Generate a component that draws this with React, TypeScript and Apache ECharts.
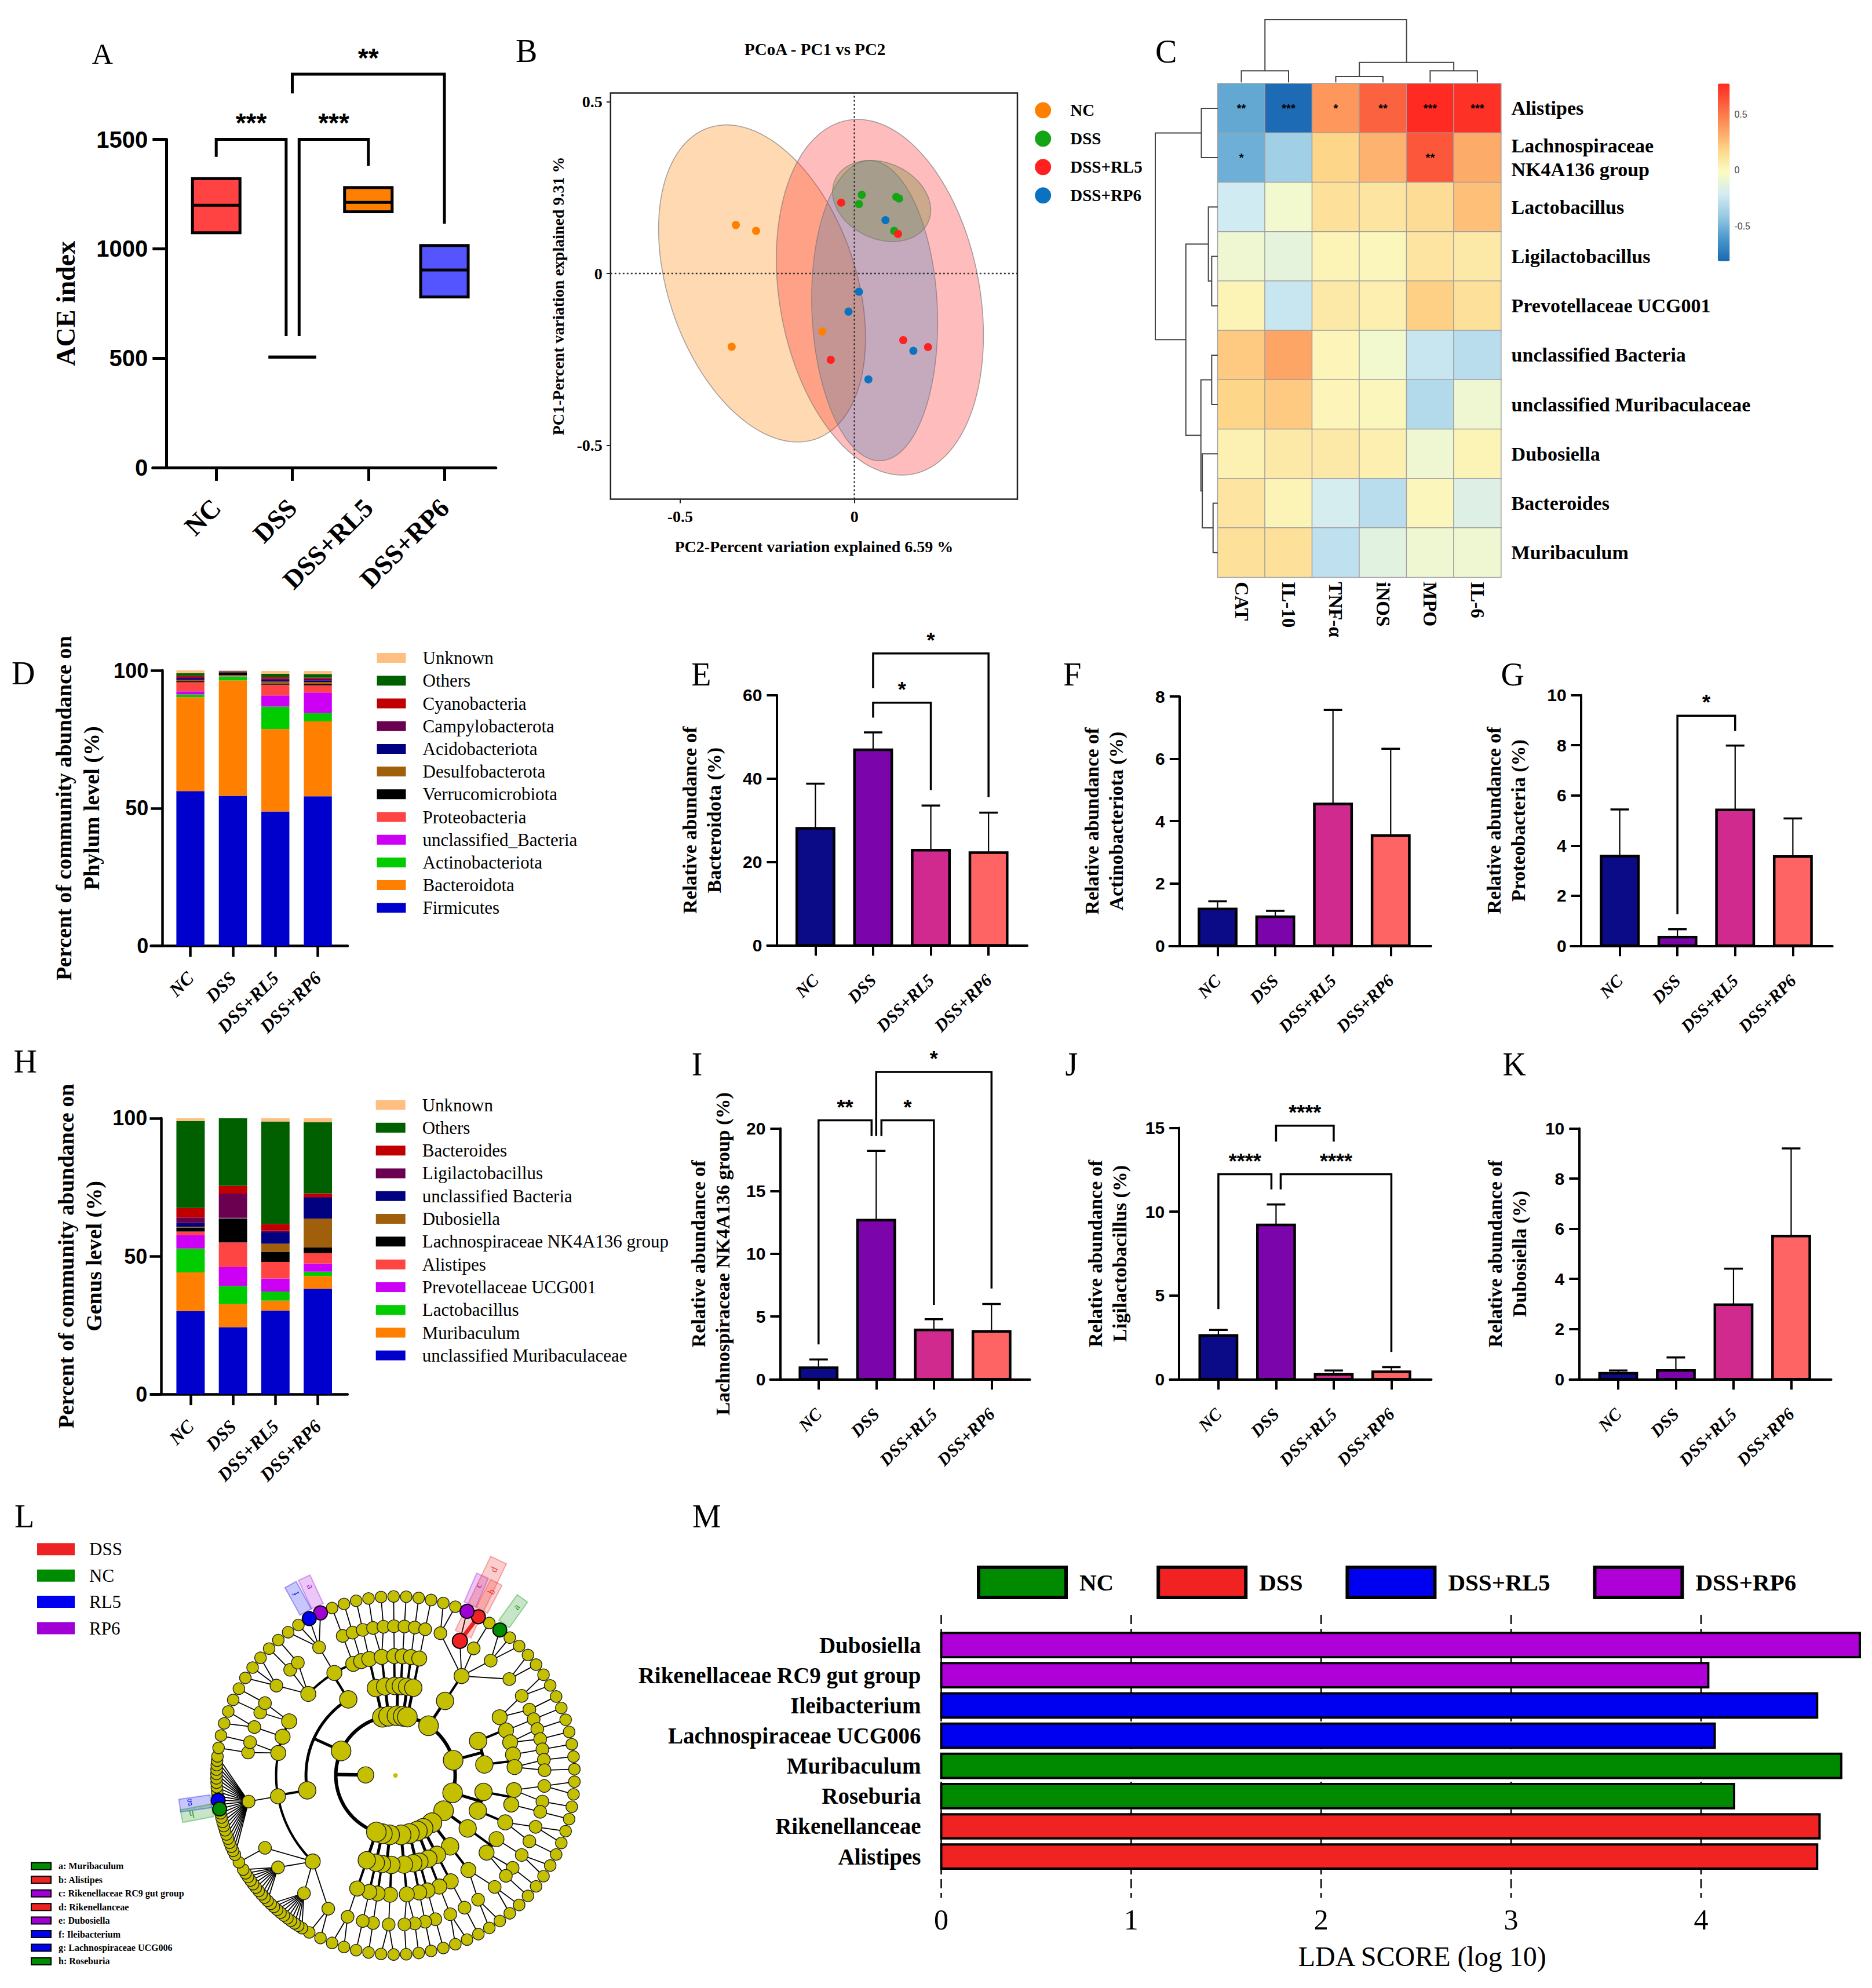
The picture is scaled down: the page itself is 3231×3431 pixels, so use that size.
import React, { useEffect, useRef } from "react";
import * as echarts from "echarts";

const SERIF = '"Liberation Serif", "Times New Roman", Times, serif';
const SANS = '"Liberation Sans", Arial, Helvetica, sans-serif';

/* ---------------- shared ---------------- */
const GROUPS = ["NC", "DSS", "DSS+RL5", "DSS+RP6"];
const BAR_COLORS = ["#0B0B87", "#7B05AB", "#D12A8F", "#FF6464"];

/* ---------------- A : ACE index ---------------- */
const ACE_Q1 = [1073, 505, 1169, 780];
const ACE_MEDIAN = [1199, 505, 1212, 903];
const ACE_Q3 = [1321, 505, 1280, 1015];
const ACE_COLORS = ["#FF4242", "#FF4242", "#FF8000", "#5555FF"];
// [x1, x2, barY, leftEndY, rightEndY, leftPxShift, rightPxShift, label]
const ACE_BRACKETS: any[] = [
  [0, 1, 1500, 1420, 601, 0, -10.6, "***"],
  [1, 2, 1500, 601, 1380, 11.8, 0, "***"],
  [1, 3, 1798, 1710, 1115, 0, 0, "**"],
];

/* ---------------- B : PCoA ---------------- */
const PCOA_NC = [[-0.34, 0.141], [-0.282, 0.124], [-0.092, -0.169], [-0.352, -0.213]];
const PCOA_DSS = [[0.021, 0.229], [0.013, 0.202], [0.12, 0.223], [0.128, 0.218], [0.114, 0.124]];
const PCOA_RL5 = [[-0.038, 0.206], [0.125, 0.115], [0.14, -0.194], [0.211, -0.214], [-0.068, -0.251]];
const PCOA_RP6 = [[0.089, 0.155], [0.013, -0.053], [-0.017, -0.111], [0.169, -0.225], [0.04, -0.308]];
const PCOA_POINTS = [PCOA_NC, PCOA_DSS, PCOA_RL5, PCOA_RP6];
const PCOA_COLORS = ["#FF8000", "#14A514", "#FF2020", "#0A72BE"];
// [cx, cy, semi-major, semi-minor, angle(deg)]
const PCOA_ELLIPSES = [
  [-0.265, -0.029, 0.478, 0.269, -71.5],
  [0.078, 0.211, 0.147, 0.11, -26],
  [0.073, -0.069, 0.523, 0.287, -79.9],
  [0.058, -0.108, 0.437, 0.18, -87.7],
];
const ELLIPSE_FILLS = ["rgba(255,128,0,0.3)", "rgba(107,133,47,0.34)", "rgba(255,32,32,0.3)", "rgba(10,114,190,0.24)"];
const ELLIPSE_ORDER = [0, 2, 3, 1];

/* ---------------- C : heatmap ---------------- */
const HEAT_COLS = ["CAT", "IL-10", "TNF-α", "iNOS", "MPO", "IL-6"];
const HEAT_ROWS = [
  "Alistipes",
  "Lachnospiraceae\nNK4A136 group",
  "Lactobacillus",
  "Ligilactobacillus",
  "Prevotellaceae UCG001",
  "unclassified Bacteria",
  "unclassified Muribaculaceae",
  "Dubosiella",
  "Bacteroides",
  "Muribaculum",
];
const HEAT_VALUES = [
  [-0.55, -0.8, 0.4, 0.58, 0.77, 0.75],
  [-0.52, -0.38, 0.18, 0.3, 0.62, 0.33],
  [-0.22, -0.06, 0.12, 0.1, 0.14, 0.26],
  [-0.08, -0.12, 0.03, 0.01, 0.1, 0.08],
  [0.03, -0.25, 0.08, 0.05, 0.2, 0.12],
  [0.22, 0.35, 0.02, -0.06, -0.25, -0.3],
  [0.18, 0.22, 0.02, 0.01, -0.32, -0.08],
  [0.04, 0.08, 0.08, 0.05, -0.08, 0.03],
  [0.1, 0.03, -0.2, -0.3, 0.01, -0.16],
  [0.12, 0.12, -0.28, -0.14, -0.08, -0.08],
];
const HEAT_STARS = [
  ["**", "***", "*", "**", "***", "***"],
  ["*", "", "", "", "**", ""],
  ["", "", "", "", "", ""],
  ["", "", "", "", "", ""],
  ["", "", "", "", "", ""],
  ["", "", "", "", "", ""],
  ["", "", "", "", "", ""],
  ["", "", "", "", "", ""],
  ["", "", "", "", "", ""],
  ["", "", "", "", "", ""],
];
const HEAT_MIN = -0.814;
const HEAT_MAX = 0.775;
const HEAT_PALETTE = ["#1868B2", "#4A97CC", "#96C9E2", "#D2EBF3", "#FBFCC4", "#FED68A", "#FD9D5E", "#FB6441", "#FF2A22"];
const HEAT_LEGEND_TICKS = [-0.5, 0, 0.5];
// column dendrogram merges: [xLeft, xRight, hLeft, hRight, hMerge]
const COL_MERGES = [
  [0.5, 1.5, 0, 0, 0.184],
  [2.5, 3.5, 0, 0, 0.095],
  [4.5, 5.5, 0, 0, 0.184],
  [3, 5, 0.095, 0.184, 0.318],
  [1, 4, 0.184, 0.318, 1],
];
// row dendrogram merges: [yTop, yBottom, hTop, hBottom, hMerge]
const ROW_MERGES = [
  [0.5, 1.5, 0, 0, 0.2625],
  [3.5, 4.5, 0, 0, 0.097],
  [2.5, 4, 0, 0.097, 0.15],
  [5.5, 6.5, 0, 0, 0.097],
  [8.5, 9.5, 0, 0, 0.075],
  [7.5, 9, 0, 0.075, 0.2477],
  [6, 8.25, 0.097, 0.2477, 0.27],
  [3.25, 7.125, 0.15, 0.27, 0.511],
  [1, 5.1875, 0.2625, 0.511, 1],
];

/* ---------------- D : phylum stacked ---------------- */
const PHYLUM_NAMES = ["Firmicutes", "Bacteroidota", "Actinobacteriota", "unclassified_Bacteria", "Proteobacteria", "Verrucomicrobiota", "Desulfobacterota", "Acidobacteriota", "Campylobacterota", "Cyanobacteria", "Others", "Unknown"];
const PHYLUM_COLORS = ["#0000CC", "#FF8000", "#00CC00", "#CC00F5", "#FF4444", "#000000", "#A05F0A", "#000080", "#6B0050", "#C00000", "#006000", "#FFBF80"];
const PHYLUM_NC = [56.2, 34.1, 1.0, 1.1, 3.3, 0.3, 0.6, 0.5, 0.5, 0.4, 1.0, 1.0];
const PHYLUM_DSS = [54.5, 41.9, 1.4, 0.05, 0.4, 1.1, 0.1, 0.1, 0.1, 0.1, 0.1, 0.1];
const PHYLUM_RL5 = [48.8, 29.9, 8.2, 4.0, 3.9, 0.5, 0.7, 0.6, 0.6, 0.4, 1.2, 1.0];
const PHYLUM_RP6 = [54.3, 27.2, 3.0, 7.5, 2.6, 0.5, 0.7, 0.6, 0.6, 0.4, 1.3, 1.1];

/* ---------------- H : genus stacked ---------------- */
const GENUS_NAMES = ["unclassified Muribaculaceae", "Muribaculum", "Lactobacillus", "Prevotellaceae UCG001", "Alistipes", "Lachnospiraceae NK4A136 group", "Dubosiella", "unclassified Bacteria", "Ligilactobacillus", "Bacteroides", "Others", "Unknown"];
const GENUS_COLORS = ["#0000CC", "#FF8000", "#00CC00", "#CC00F5", "#FF4444", "#000000", "#A05F0A", "#000080", "#6B0050", "#C00000", "#006000", "#FFBF80"];
const GENUS_NC = [30.1, 14.0, 8.7, 4.9, 1.2, 1.5, 0.3, 1.4, 1.9, 3.5, 31.5, 1.0];
const GENUS_DSS = [24.3, 8.3, 6.6, 6.8, 9.0, 8.5, 0.2, 0.2, 8.8, 2.8, 24.5, 0];
const GENUS_RL5 = [30.3, 3.6, 3.3, 4.7, 6.0, 3.7, 2.9, 4.1, 0.7, 2.4, 37.1, 1.2];
const GENUS_RP6 = [38.2, 4.6, 1.6, 2.9, 3.8, 2.1, 10.4, 7.6, 0.2, 1.4, 25.8, 1.4];

/* ---------------- E-K : mean + SD bars ---------------- */
const BACTEROIDOTA_MEAN = [28.05, 46.91, 22.83, 22.21];
const BACTEROIDOTA_SD = [10.73, 4.15, 10.67, 9.62];
const ACTINO_MEAN = [1.18, 0.93, 4.55, 3.54];
const ACTINO_SD = [0.25, 0.19, 3.02, 2.78];
const PROTEO_MEAN = [3.58, 0.35, 5.42, 3.56];
const PROTEO_SD = [1.86, 0.31, 2.57, 1.52];
const NK4A136_MEAN = [0.92, 12.69, 3.93, 3.82];
const NK4A136_SD = [0.65, 5.52, 0.85, 2.18];
const LIGILACTO_MEAN = [2.61, 9.21, 0.29, 0.44];
const LIGILACTO_SD = [0.33, 1.22, 0.23, 0.28];
const DUBOSIELLA_MEAN = [0.24, 0.35, 2.97, 5.71];
const DUBOSIELLA_SD = [0.11, 0.52, 1.44, 3.49];
const E_BRACKETS: any[] = [[1, 2, 58.2, 54.6, 37.2, 0, 0, "*"], [1, 3, 70.0, 61.7, 35.5, 0, 0, "*"]];
const G_BRACKETS: any[] = [[1, 2, 9.18, 1.26, 8.57, 0, 0, "*"]];
const I_BRACKETS: any[] = [[0, 1, 20.65, 2.77, 19.39, 0, -8, "**"], [1, 2, 20.65, 19.39, 5.93, 9, 0, "*"], [1, 3, 24.51, 19.4, 7.24, 0, 0, "*"]];
const J_BRACKETS: any[] = [[1, 2, 15.13, 14.18, 14.18, 0, 0, "****"], [0, 1, 12.24, 4.19, 11.33, 0, -8, "****"], [1, 3, 12.24, 11.33, 1.63, 8, 0, "****"]];

/* ---------------- L : cladogram ---------------- */
// phylum -> classes -> orders -> families (genus counts; negative = densely packed family)
const CLADO_PHYLA: any[] = [
  [[[2, 1], [1]], [[2, 1]]],
  [[[2], [1, 1]]],
  [[[2, 2]]],
  [[[1]]], [[[2]]], [[[1]], [[1]]], [[[1, 1]]], [[[2]], [[1]]], [[[1]]], [[[2]]],
  [[[2, -10, -10, 1], [-24], [1, 1], [2], [1, 1]], [[3, 1, 1], [4], [1], [1]]],
  [[[1]]], [[[1, 1]]], [[[1]], [[1]]], [[[1]]], [[[1]]],
  [[[2, 2, 1, 3, 2]]],
  [[[2, 1], [1], [1, 1]], [[1], [1, 1]]],
];
const CLADE_KEYS = ["16.0.0.3.0", "16.0.0.1.1", "16.0.0.1.0", "16.0.0.1", "10.1.1.0.3", "10.1.1.0.2", "10.0.1.0.13", "10.0.1.0.11"];
const CLADE_LETTERS = ["a", "b", "c", "d", "e", "f", "g", "h"];
const CLADE_NAMES = ["Muribaculum", "Alistipes", "Rikenellaceae RC9 gut group", "Rikenellanceae", "Dubosiella", "Ileibacterium", "Lachnospiraceae UCG006", "Roseburia"];
const CLADE_GROUPS = ["NC", "DSS", "RP6", "DSS", "RP6", "RL5", "RL5", "NC"];
const L_LEGEND = ["DSS", "NC", "RL5", "RP6"];
const L_COLORS: any = { DSS: [238, 34, 34], NC: [0, 140, 0], RL5: [0, 0, 240], RP6: [160, 0, 214] };

/* ---------------- M : LDA ---------------- */
const LDA_FEATURES = ["Dubosiella", "Rikenellaceae RC9 gut group", "Ileibacterium", "Lachnospiraceae UCG006", "Muribaculum", "Roseburia", "Rikenellanceae", "Alistipes"];
const LDA_SCORES = [4.836, 4.038, 4.611, 4.072, 4.738, 4.174, 4.624, 4.611];
const LDA_GROUPS = ["DSS+RP6", "DSS+RP6", "DSS+RL5", "DSS+RL5", "NC", "NC", "DSS", "DSS"];
const LDA_COLORS = ["#008A00", "#F02222", "#0000F0", "#B000D8"];
const LDA_TICKS = [0, 1, 2, 3, 4];

const rgba = (c: number[], a: number) => `rgba(${c[0]},${c[1]},${c[2]},${a})`;

function layoutClado() {
  const nodes: any[] = [];
  let pos = 0;
  const add = (level: number, parent: number, key: string) => {
    nodes.push({ level, parent, key, kids: [], angle: 0 });
    const id = nodes.length - 1;
    if (parent >= 0) nodes[parent].kids.push(id);
    return id;
  };
  const root = add(0, -1, "root");
  const king = add(1, root, "k");
  CLADO_PHYLA.forEach((phy: any, pi: number) => {
    const p = add(2, king, `${pi}`);
    phy.forEach((cls: any, ci: number) => {
      const c = add(3, p, `${pi}.${ci}`);
      cls.forEach((ord: any, oi: number) => {
        const o = add(4, c, `${pi}.${ci}.${oi}`);
        ord.forEach((fam: number, fi: number) => {
          const fk = `${pi}.${ci}.${oi}.${fi}`;
          const f = add(5, o, fk);
          const n = Math.abs(fam);
          const w = fam < 0 ? 0.35 : 1;
          for (let g = 0; g < n; g++) {
            const id = add(6, f, `${fk}.${g}`);
            nodes[id].angle = pos + w / 2;
            pos += w;
          }
        });
      });
    });
  });
  nodes.forEach((n) => {
    if (n.level === 6) n.angle = 90 + (360 * n.angle) / pos;
  });
  for (let i = nodes.length - 1; i >= 0; i--) {
    const n = nodes[i];
    if (n.kids.length) n.angle = (nodes[n.kids[0]].angle + nodes[n.kids[n.kids.length - 1]].angle) / 2;
  }
  return nodes;
}

function makeOption() {
  const grid: any[] = [];
  const xAxis: any[] = [];
  const yAxis: any[] = [];
  const series: any[] = [];
  const legend: any[] = [];
  const elements: any[] = [];

  const addGrid = (rect: any, xa: any, ya: any) => {
    grid.push({ containLabel: false, outerBoundsMode: "none", ...rect });
    const gi = grid.length - 1;
    xAxis.push({ ...xa, gridIndex: gi });
    yAxis.push({ ...ya, gridIndex: gi });
    return gi;
  };
  const hidden = (min: number, max: number, extra: any = {}) => ({ type: "value", min, max, show: false, splitLine: { show: false }, axisLine: { onZero: false }, ...extra });
  const cs = (g: number, extra: any) => ({ type: "custom", coordinateSystem: "cartesian2d", xAxisIndex: g, yAxisIndex: g, silent: true, clip: false, ...extra });
  const text = (t: string, x: number, y: number, size: number, o: any = {}) => ({
    type: "text", x, y, silent: true, z: 50,
    style: { text: t, fill: o.fill || "#000", fontFamily: o.family || SERIF, fontSize: size, fontWeight: o.weight || "normal", align: o.align || "center", textAlign: o.align || "center", verticalAlign: "middle", textVerticalAlign: "middle" },
  });
  const plain = (v: number) => String(v);

  const gpX = (min: number, max: number, o: any) => ({
    type: "value", min, max,
    axisLine: { show: true, onZero: false, lineStyle: { color: "#000", width: o.lw } },
    axisTick: { show: true, customValues: [0, 1, 2, 3], length: o.xt, lineStyle: { color: "#000", width: o.lw } },
    axisLabel: { show: true, customValues: [0, 1, 2, 3], formatter: (v: number) => GROUPS[Math.round(v)] || "", rotate: 45, margin: o.xm, color: "#000", fontFamily: SERIF, fontWeight: "bold", fontStyle: o.italic ? "italic" : "normal", fontSize: o.xf },
    splitLine: { show: false },
  });
  const gpY = (max: number, interval: number, offset: number, name: string, nameGap: number, o: any) => ({
    type: "value", min: 0, max, interval, offset,
    axisLine: { show: true, onZero: false, lineStyle: { color: "#000", width: o.lw } },
    axisTick: { show: true, length: o.yt, lineStyle: { color: "#000", width: o.lw } },
    axisLabel: { margin: o.ym, color: "#000", fontFamily: SANS, fontWeight: "bold", fontSize: o.yf, formatter: plain },
    splitLine: { show: false },
    name, nameLocation: "middle", nameGap,
    nameTextStyle: { color: "#000", fontFamily: SERIF, fontWeight: "bold", fontSize: o.nf, lineHeight: o.nlh },
  });

  const bracketSeries = (g: number, list: any[], lw: number, font: number) =>
    cs(g, {
      z: 6,
      data: list.map((b) => [b[0], b[2]]),
      encode: { x: 0, y: 1 },
      renderItem: (params: any, api: any) => {
        const b = list[params.dataIndex];
        const l0 = api.coord([b[0], b[3]]);
        const lt = api.coord([b[0], b[2]]);
        const rt = api.coord([b[1], b[2]]);
        const r0 = api.coord([b[1], b[4]]);
        const xl = l0[0] + b[5];
        const xr = rt[0] + b[6];
        return {
          type: "group",
          children: [
            { type: "polyline", shape: { points: [[xl, l0[1]], [xl, lt[1]], [xr, rt[1]], [xr, r0[1]]] }, style: { stroke: "#000", lineWidth: lw, fill: "none" } },
            { type: "text", x: (xl + xr) / 2, y: lt[1] - font * 0.12, style: { text: b[7], fill: "#000", fontFamily: SANS, fontWeight: "bold", fontSize: font, align: "center", textAlign: "center", verticalAlign: "bottom", textVerticalAlign: "bottom" } },
          ],
        };
      },
    });

  const rectBars = (g: number, rows: number[][], width: number, fillFor: (i: number) => string, border: number) =>
    cs(g, {
      z: 3,
      data: rows,
      encode: { x: 0, y: [1, 2] },
      renderItem: (params: any, api: any) => {
        const x = api.value(0);
        const p0 = api.coord([x, api.value(1)]);
        const p1 = api.coord([x, api.value(2)]);
        const w = api.size([width, 0])[0];
        return { type: "rect", shape: { x: p0[0] - w / 2, y: p1[1], width: w, height: p0[1] - p1[1] }, style: { fill: fillFor(params.dataIndex), stroke: border ? "#000" : null, lineWidth: border } };
      },
    });

  const errorBars = (g: number, means: number[], sds: number[], cap: number) =>
    cs(g, {
      z: 4,
      data: means.map((m, i) => [i, m, m + sds[i]]),
      encode: { x: 0, y: [1, 2] },
      renderItem: (params: any, api: any) => {
        const x = api.value(0);
        const p0 = api.coord([x, api.value(1)]);
        const p1 = api.coord([x, api.value(2)]);
        return {
          type: "group",
          children: [
            { type: "line", shape: { x1: p0[0], y1: p0[1], x2: p1[0], y2: p1[1] }, style: { stroke: "#000", lineWidth: 2.2 } },
            { type: "line", shape: { x1: p1[0] - cap, y1: p1[1], x2: p1[0] + cap, y2: p1[1] }, style: { stroke: "#000", lineWidth: 3.5 } },
          ],
        };
      },
    });

  /* ===== A ===== */
  const oA = { lw: 5, xt: 23, xm: 62, xf: 46, italic: false, yt: 24, ym: 32, yf: 40, nf: 46, nlh: 50 };
  const gA = addGrid({ left: 263.7, top: 240.6, width: 592.1, height: 566.3 }, gpX(-0.834, 3.676, oA), gpY(1500, 500, -23.6, "ACE index", 149, oA));
  series.push(
    cs(gA, {
      z: 3,
      data: ACE_Q1.map((q, i) => [i, q, ACE_MEDIAN[i], ACE_Q3[i]]),
      encode: { x: 0, y: [1, 2, 3] },
      renderItem: (params: any, api: any) => {
        const x = api.value(0);
        const pq1 = api.coord([x, api.value(1)]);
        const pm = api.coord([x, api.value(2)]);
        const pq3 = api.coord([x, api.value(3)]);
        const w = api.size([0.625, 0])[0];
        return {
          type: "group",
          children: [
            { type: "rect", shape: { x: pq1[0] - w / 2, y: pq3[1], width: w, height: pq1[1] - pq3[1] }, style: { fill: ACE_COLORS[params.dataIndex], stroke: "#000", lineWidth: 5 } },
            { type: "line", shape: { x1: pm[0] - w / 2, y1: pm[1], x2: pm[0] + w / 2, y2: pm[1] }, style: { stroke: "#000", lineWidth: 5 } },
          ],
        };
      },
    })
  );
  series.push(bracketSeries(gA, ACE_BRACKETS, 5, 46));

  /* ===== B ===== */
  const fmt0 = (v: number) => (Math.abs(v) < 1e-9 ? "0" : String(v));
  const bTick = { color: "#000", fontFamily: SERIF, fontWeight: "bold", fontSize: 28 };
  const bName = { color: "#000", fontFamily: SERIF, fontWeight: "bold", fontSize: 28 };
  const gB = addGrid(
    { left: 1053.8, top: 160.4, width: 702.2, height: 701, show: true, borderColor: "#222", borderWidth: 2.5, backgroundColor: "rgba(0,0,0,0)" },
    {
      type: "value", min: -0.6994, max: 0.4674,
      axisLine: { show: false, onZero: false },
      axisTick: { show: true, customValues: [-0.5, 0], length: 7, lineStyle: { color: "#222", width: 2 } },
      axisLabel: { customValues: [-0.5, 0], formatter: fmt0, margin: 16, ...bTick },
      splitLine: { show: false },
      name: "PC2-Percent variation explained 6.59 %", nameLocation: "middle", nameGap: 68, nameTextStyle: bName,
    },
    {
      type: "value", min: -0.6563, max: 0.5252,
      axisLine: { show: false, onZero: false },
      axisTick: { show: true, customValues: [-0.5, 0, 0.5], length: 7, lineStyle: { color: "#222", width: 2 } },
      axisLabel: { customValues: [-0.5, 0, 0.5], formatter: fmt0, margin: 14, ...bTick },
      splitLine: { show: false },
      name: "PC1-Percent variation explained 9.31 %", nameLocation: "middle", nameGap: 76, nameTextStyle: bName,
    }
  );
  series.push(
    cs(gB, {
      z: 1,
      data: ELLIPSE_ORDER.map((i) => [PCOA_ELLIPSES[i][0], PCOA_ELLIPSES[i][1]]),
      encode: { x: 0, y: 1 },
      renderItem: (params: any, api: any) => {
        const gi = ELLIPSE_ORDER[params.dataIndex];
        const [cx, cy, a, b, deg] = PCOA_ELLIPSES[gi];
        const th = (deg * Math.PI) / 180;
        const pts: any[] = [];
        for (let k = 0; k < 120; k++) {
          const t = (k / 120) * 2 * Math.PI;
          const x = cx + a * Math.cos(t) * Math.cos(th) - b * Math.sin(t) * Math.sin(th);
          const y = cy + a * Math.cos(t) * Math.sin(th) + b * Math.sin(t) * Math.cos(th);
          pts.push(api.coord([x, y]));
        }
        return { type: "polygon", shape: { points: pts }, style: { fill: ELLIPSE_FILLS[gi], stroke: "rgba(120,120,120,0.65)", lineWidth: 1.6 } };
      },
    })
  );
  series.push(
    cs(gB, {
      z: 2,
      data: [[0, 0]],
      encode: { x: 0, y: 1 },
      renderItem: (params: any, api: any) => {
        const v0 = api.coord([0, -0.6563]);
        const v1 = api.coord([0, 0.5252]);
        const h0 = api.coord([-0.6994, 0]);
        const h1 = api.coord([0.4674, 0]);
        const st = { stroke: "#333", lineWidth: 2.6, lineDash: [3, 4] };
        return {
          type: "group",
          children: [
            { type: "line", shape: { x1: v0[0], y1: v0[1], x2: v1[0], y2: v1[1] }, style: st },
            { type: "line", shape: { x1: h0[0], y1: h0[1], x2: h1[0], y2: h1[1] }, style: st },
          ],
        };
      },
    })
  );
  PCOA_POINTS.forEach((pts, i) => {
    series.push({ type: "scatter", name: GROUPS[i], xAxisIndex: gB, yAxisIndex: gB, z: 5, symbolSize: 14, itemStyle: { color: PCOA_COLORS[i], opacity: 1 }, data: pts, silent: true });
  });
  legend.push({
    show: true, orient: "vertical", left: 1786.2, top: 165.8, padding: 0, itemGap: 0, itemWidth: 28, itemHeight: 28, icon: "circle", selectedMode: false,
    data: GROUPS,
    textStyle: { color: "#000", fontFamily: SERIF, fontWeight: "bold", fontSize: 29, lineHeight: 49, padding: [0, 0, 0, 28] },
  });

  /* ===== C ===== */
  const gC = addGrid(
    { left: 2101.8, top: 144.3, width: 488.8, height: 852 },
    { type: "category", data: HEAT_COLS, position: "bottom", axisLine: { show: false }, axisTick: { show: false }, splitLine: { show: false }, axisLabel: { interval: 0, rotate: -90, margin: 8, color: "#000", fontFamily: SERIF, fontWeight: "bold", fontSize: 33 } },
    { type: "category", data: HEAT_ROWS, inverse: true, position: "right", axisLine: { show: false }, axisTick: { show: false }, splitLine: { show: false }, axisLabel: { interval: 0, margin: 18, color: "#000", fontFamily: SERIF, fontWeight: "bold", fontSize: 34, lineHeight: 41 } }
  );
  const heatData: any[] = [];
  HEAT_VALUES.forEach((row, r) => row.forEach((v, c) => heatData.push([c, r, v])));
  const heatIdx = series.length;
  series.push({
    type: "heatmap", xAxisIndex: gC, yAxisIndex: gC, data: heatData, silent: true,
    itemStyle: { borderColor: "#A0A0A0", borderWidth: 1.5 },
    label: { show: true, formatter: (p: any) => HEAT_STARS[p.data[1]][p.data[0]], color: "#000", fontSize: 20, fontWeight: "bold", fontFamily: SANS },
    emphasis: { disabled: true },
  });
  const gCol = addGrid({ left: 2101.8, top: 34.1, width: 488.8, height: 108.1 }, hidden(0, 6), hidden(0, 1));
  series.push(
    cs(gCol, {
      data: COL_MERGES.map((m) => [(m[0] + m[1]) / 2, m[4]]),
      encode: { x: 0, y: 1 },
      renderItem: (params: any, api: any) => {
        const m = COL_MERGES[params.dataIndex];
        const pts = [[m[0], m[2]], [m[0], m[4]], [m[1], m[4]], [m[1], m[3]]].map((p) => api.coord(p));
        return { type: "polyline", shape: { points: pts }, style: { stroke: "#444", lineWidth: 2, fill: "none" } };
      },
    })
  );
  const gRow = addGrid({ left: 1994, top: 144.3, width: 107.8, height: 852 }, hidden(0, 1, { inverse: true }), hidden(0, 10, { inverse: true }));
  series.push(
    cs(gRow, {
      data: ROW_MERGES.map((m) => [m[4], (m[0] + m[1]) / 2]),
      encode: { x: 0, y: 1 },
      renderItem: (params: any, api: any) => {
        const m = ROW_MERGES[params.dataIndex];
        const pts = [[m[2], m[0]], [m[4], m[0]], [m[4], m[1]], [m[3], m[1]]].map((p) => api.coord(p));
        return { type: "polyline", shape: { points: pts }, style: { stroke: "#444", lineWidth: 2, fill: "none" } };
      },
    })
  );
  addGrid(
    { left: 2965, top: 144.3, width: 20.4, height: 306.5 },
    hidden(0, 1),
    { type: "value", min: HEAT_MIN, max: HEAT_MAX, position: "right", axisLine: { show: false, onZero: false }, axisTick: { show: false }, splitLine: { show: false }, axisLabel: { show: true, customValues: HEAT_LEGEND_TICKS, formatter: fmt0, margin: 8, color: "#444", fontFamily: SANS, fontSize: 16 } }
  );

  /* ===== D & H stacked ===== */
  const stacked = (g: number, names: string[], colors: string[], groupVals: number[][], bw: number) => {
    const cum = [0, 0, 0, 0];
    names.forEach((name, j) => {
      const rows = groupVals.map((vals, i) => {
        const b = cum[i];
        cum[i] += vals[j];
        return [i, b, cum[i]];
      });
      const s: any = rectBars(g, rows, bw, () => colors[j], 0);
      s.name = name;
      s.itemStyle = { color: colors[j] };
      series.push(s);
    });
  };
  const oD = { lw: 4.5, xt: 19, xm: 50, xf: 32, italic: true, yt: 20, ym: 24, yf: 36, nf: 38, nlh: 48 };
  const gD = addGrid({ left: 260.4, top: 1157.1, width: 339.6, height: 475.4 }, gpX(-0.93, 3.701, oD), gpY(100, 50, -19.8, "Percent of community abundance on\nPhylum level (%)", 98.5, oD));
  stacked(gD, PHYLUM_NAMES, PHYLUM_COLORS, [PHYLUM_NC, PHYLUM_DSS, PHYLUM_RL5, PHYLUM_RP6], 0.66);
  legend.push({
    show: true, orient: "vertical", left: 650.5, top: 1116, padding: 0, itemGap: 0, itemWidth: 50, itemHeight: 17, icon: "rect", selectedMode: false,
    data: PHYLUM_NAMES.slice().reverse(),
    textStyle: { color: "#000", fontFamily: SERIF, fontSize: 31, lineHeight: 39.2, padding: [0, 0, 0, 24] },
  });
  const gH = addGrid({ left: 261.1, top: 1929.9, width: 338.7, height: 476.2 }, gpX(-0.926, 3.7, oD), gpY(100, 50, -17.3, "Percent of community abundance on\nGenus level (%)", 92.6, oD));
  stacked(gH, GENUS_NAMES, GENUS_COLORS, [GENUS_NC, GENUS_DSS, GENUS_RL5, GENUS_RP6], 0.668);
  legend.push({
    show: true, orient: "vertical", left: 648.7, top: 1887.4, padding: 0, itemGap: 0, itemWidth: 51, itemHeight: 17, icon: "rect", selectedMode: false,
    data: GENUS_NAMES.slice().reverse(),
    textStyle: { color: "#000", fontFamily: SERIF, fontSize: 31, lineHeight: 39.3, padding: [0, 0, 0, 24] },
  });

  /* ===== E-K ===== */
  const oE = { lw: 4, xt: 18, xm: 55, xf: 30, italic: true, yt: 17, ym: 25, yf: 30, nf: 34, nlh: 42 };
  const panels = [
    { r: { left: 1324.3, top: 1199.7, width: 448.9, height: 431.7 }, xr: [-0.834, 3.673], off: -16.1, max: 60, int: 20, name: "Relative abundance of\nBacteroidota (%)", gap: 87, mean: BACTEROIDOTA_MEAN, sd: BACTEROIDOTA_SD, br: E_BRACKETS },
    { r: { left: 2018.4, top: 1202, width: 451.6, height: 430.3 }, xr: [-0.834, 3.7], off: -17.4, max: 8, int: 2, name: "Relative abundance of\nActinobacteriota (%)", gap: 88, mean: ACTINO_MEAN, sd: ACTINO_SD, br: [] },
    { r: { left: 2711.1, top: 1199.7, width: 451.6, height: 432.6 }, xr: [-0.848, 3.686], off: -17.5, max: 10, int: 2, name: "Relative abundance of\nProteobacteria (%)", gap: 87, mean: PROTEO_MEAN, sd: PROTEO_SD, br: G_BRACKETS },
    { r: { left: 1329.2, top: 1947.5, width: 448.5, height: 432.8 }, xr: [-0.84, 3.667], off: -17.2, max: 20, int: 5, name: "Relative abundance of\nLachnospiraceae NK4A136 group (%)", gap: 78, mean: NK4A136_MEAN, sd: NK4A136_SD, br: I_BRACKETS },
    { r: { left: 2019.3, top: 1946.6, width: 451.2, height: 433.7 }, xr: [-0.84, 3.694], off: -15.9, max: 15, int: 5, name: "Relative abundance of\nLigilactobacillus (%)", gap: 82, mean: LIGILACTO_MEAN, sd: LIGILACTO_SD, br: J_BRACKETS },
    { r: { left: 2709.4, top: 1947.5, width: 451.2, height: 432.8 }, xr: [-0.84, 3.695], off: -15.9, max: 10, int: 2, name: "Relative abundance of\nDubosiella (%)", gap: 82, mean: DUBOSIELLA_MEAN, sd: DUBOSIELLA_SD, br: [] },
  ];
  panels.forEach((p) => {
    const g = addGrid(p.r, gpX(p.xr[0], p.xr[1], oE), gpY(p.max, p.int, p.off, p.name, p.gap, oE));
    series.push(errorBars(g, p.mean, p.sd, 16));
    series.push(rectBars(g, p.mean.map((m, i) => [i, 0, m]), 0.646, (i) => BAR_COLORS[i], 4.5));
    if (p.br.length) series.push(bracketSeries(g, p.br, 3.5, 36));
  });

  /* ===== M ===== */
  const gM = addGrid(
    { left: 1624.5, top: 2786.9, width: 1606.5, height: 488.7 },
    {
      type: "value", min: 0, max: 4.9,
      axisLine: { show: false, onZero: false }, axisTick: { show: false }, splitLine: { show: false },
      axisLabel: { customValues: LDA_TICKS, margin: 12, color: "#000", fontFamily: SERIF, fontSize: 50 },
      name: "LDA SCORE (log 10)", nameLocation: "middle", nameGap: 77,
      nameTextStyle: { color: "#000", fontFamily: SERIF, fontSize: 48, padding: [0, 0, 0, 54] },
    },
    {
      type: "value", min: -1.0, max: 8.37, inverse: true,
      axisLine: { show: false, onZero: false }, axisTick: { show: false }, splitLine: { show: false },
      axisLabel: { customValues: [0, 1, 2, 3, 4, 5, 6, 7], formatter: (v: number) => LDA_FEATURES[Math.round(v)] || "", margin: 35, color: "#000", fontFamily: SERIF, fontWeight: "bold", fontSize: 39 },
    }
  );
  series.push(
    cs(gM, {
      z: 2,
      data: LDA_TICKS.map((t) => [t, 0]),
      encode: { x: 0, y: 1 },
      renderItem: (params: any, api: any) => {
        const x = api.value(0);
        const p0 = api.coord([x, -1.0]);
        const p1 = api.coord([x, 8.37]);
        return { type: "line", shape: { x1: p0[0], y1: p0[1], x2: p1[0], y2: p1[1] }, style: { stroke: "#000", lineWidth: 2.5, lineDash: [16, 8] } };
      },
    })
  );
  GROUPS.forEach((gname, gi) => {
    const rows = LDA_FEATURES.map((_, i) => i).filter((i) => LDA_GROUPS[i] === gname);
    series.push(
      cs(gM, {
        name: "M:" + gname, z: 3,
        itemStyle: { color: LDA_COLORS[gi] },
        data: rows.map((i) => [LDA_SCORES[i], i]),
        encode: { x: 0, y: 1 },
        renderItem: (params: any, api: any) => {
          const v = api.value(0);
          const r = api.value(1);
          const p0 = api.coord([0, r]);
          const p1 = api.coord([v, r]);
          const h = api.size([0, 0.8])[1];
          return { type: "rect", shape: { x: p0[0], y: p0[1] - h / 2, width: p1[0] - p0[0], height: h }, style: { fill: LDA_COLORS[gi], stroke: "#000", lineWidth: 4 } };
        },
      })
    );
  });
  legend.push({
    show: true, orient: "horizontal", left: 1686, top: 2702, padding: 0, itemGap: 74, itemWidth: 151, itemHeight: 52, icon: "rect", selectedMode: false,
    itemStyle: { borderColor: "#000", borderWidth: 6 },
    data: GROUPS.map((g) => "M:" + g),
    formatter: (n: string) => n.replace("M:", ""),
    textStyle: { color: "#000", fontFamily: SERIF, fontWeight: "bold", fontSize: 41, padding: [0, 0, 0, 18] },
  });

  /* ===== L cladogram (polar) ===== */
  const nodes = layoutClado();
  const keyIndex: any = {};
  nodes.forEach((n, i) => (keyIndex[n.key] = i));
  const NODE_R = [4, 14, 17, 15, 13, 11, 10];
  const edges: any[] = [];
  const ARC_W = [0, 6, 5, 4];
  nodes.forEach((n) => {
    if (!n.kids.length || n.level === 0) return;
    if (n.level <= 3) {
      const a1 = n.level === 1 ? 0 : nodes[n.kids[0]].angle;
      const a2 = n.level === 1 ? 360 : nodes[n.kids[n.kids.length - 1]].angle;
      if (a2 - a1 > 0.3) edges.push({ kind: "arc", r: n.level + 1, a1, a2, w: ARC_W[n.level] });
      edges.push({ kind: "line", r1: n.level, a1: n.angle, r2: n.level + 1, a2: n.angle, w: ARC_W[n.level] });
    } else {
      n.kids.forEach((k: number) => edges.push({ kind: "line", r1: n.level, a1: n.angle, r2: nodes[k].level, a2: nodes[k].angle, w: 1.8 }));
    }
  });
  const marks = CLADE_KEYS.map((k, i) => {
    const idx = keyIndex[k];
    const lvl = nodes[idx].level;
    return { idx, letter: CLADE_LETTERS[i], col: L_COLORS[CLADE_GROUPS[i]], r1: lvl === 6 ? 6.25 : 5.25, r2: lvl === 6 ? 7.3 : 8.0, hw: lvl === 6 ? 11 : 15 };
  });
  const famD = keyIndex["16.0.0.1"];
  const genB = keyIndex["16.0.0.1.1"];
  series.push({
    type: "custom", coordinateSystem: "polar", polarIndex: 0, silent: true, clip: false, z: 2,
    data: edges.map((e) => [e.kind === "arc" ? e.r : e.r1, e.a1 % 360]),
    encode: { radius: 0, angle: 1 },
    renderItem: (params: any, api: any) => {
      const e = edges[params.dataIndex];
      if (e.kind === "arc") {
        const pts: any[] = [];
        const steps = Math.max(2, Math.ceil(e.a2 - e.a1));
        for (let k = 0; k <= steps; k++) {
          const a = e.a1 + ((e.a2 - e.a1) * k) / steps;
          pts.push(api.coord([e.r, a % 360]));
        }
        return { type: "polyline", shape: { points: pts }, style: { stroke: "#000", lineWidth: e.w, fill: "none" } };
      }
      const p1 = api.coord([e.r1, e.a1 % 360]);
      const p2 = api.coord([e.r2, e.a2 % 360]);
      return { type: "line", shape: { x1: p1[0], y1: p1[1], x2: p2[0], y2: p2[1] }, style: { stroke: "#000", lineWidth: e.w } };
    },
  });
  series.push({
    type: "custom", coordinateSystem: "polar", polarIndex: 0, silent: true, clip: false, z: 3,
    data: marks.map((m) => [m.r1, nodes[m.idx].angle % 360]),
    encode: { radius: 0, angle: 1 },
    renderItem: (params: any, api: any) => {
      const m = marks[params.dataIndex];
      const a = nodes[m.idx].angle % 360;
      const p1 = api.coord([m.r1, a]);
      const p2 = api.coord([m.r2, a]);
      const dx = p2[0] - p1[0];
      const dy = p2[1] - p1[1];
      const len = Math.hypot(dx, dy) || 1;
      const ux = dx / len;
      const uy = dy / len;
      const nx = -uy * m.hw;
      const ny = ux * m.hw;
      const pts = [[p1[0] + nx, p1[1] + ny], [p2[0] + nx, p2[1] + ny], [p2[0] - nx, p2[1] - ny], [p1[0] - nx, p1[1] - ny]];
      return {
        type: "group",
        children: [
          { type: "polygon", shape: { points: pts }, style: { fill: rgba(m.col, 0.22), stroke: rgba(m.col, 0.35), lineWidth: 2 } },
          { type: "text", x: p2[0] - ux * 18, y: p2[1] - uy * 18, rotation: -Math.atan2(dy, dx), style: { text: m.letter, fill: rgba(m.col, 0.9), fontSize: 17, fontFamily: SERIF, align: "center", textAlign: "center", verticalAlign: "middle", textVerticalAlign: "middle" } },
        ],
      };
    },
  });
  series.push({
    type: "custom", coordinateSystem: "polar", polarIndex: 0, silent: true, clip: false, z: 4,
    data: nodes.map((n) => [n.level, n.angle % 360]),
    encode: { radius: 0, angle: 1 },
    renderItem: (params: any, api: any) => {
      const n = nodes[params.dataIndex];
      const p = api.coord([n.level, n.angle % 360]);
      return { type: "circle", shape: { cx: p[0], cy: p[1], r: NODE_R[n.level] }, style: { fill: "#C4C000", stroke: n.level ? "#222" : "none", lineWidth: 1.4 } };
    },
  });
  series.push({
    type: "custom", coordinateSystem: "polar", polarIndex: 0, silent: true, clip: false, z: 5,
    data: [[5, nodes[famD].angle % 360]],
    encode: { radius: 0, angle: 1 },
    renderItem: (params: any, api: any) => {
      const p1 = api.coord([5, nodes[famD].angle % 360]);
      const p2 = api.coord([6, nodes[genB].angle % 360]);
      return { type: "line", shape: { x1: p1[0], y1: p1[1], x2: p2[0], y2: p2[1] }, style: { stroke: "#EE2222", lineWidth: 7 } };
    },
  });
  series.push({
    type: "custom", coordinateSystem: "polar", polarIndex: 0, silent: true, clip: false, z: 6,
    data: marks.map((m) => [nodes[m.idx].level, nodes[m.idx].angle % 360]),
    encode: { radius: 0, angle: 1 },
    renderItem: (params: any, api: any) => {
      const m = marks[params.dataIndex];
      const n = nodes[m.idx];
      const p = api.coord([n.level, n.angle % 360]);
      return { type: "circle", shape: { cx: p[0], cy: p[1], r: NODE_R[n.level] + 2 }, style: { fill: rgba(m.col, 1), stroke: "#000", lineWidth: 2 } };
    },
  });

  /* ===== graphic: panel letters, B title, L legends ===== */
  const LETTERS: any[] = [["A", 176.8, 92.5, 50], ["B", 908.6, 88.2, 56], ["C", 2012.7, 89.2, 56], ["D", 40.3, 1161.5, 56], ["E", 1210.4, 1163.6, 56], ["F", 1850.9, 1163.6, 56], ["G", 2610.6, 1163.6, 56], ["H", 43.6, 1832, 56], ["I", 1203, 1836.6, 56], ["J", 1849.4, 1836.6, 56], ["K", 2613.8, 1836.6, 56], ["L", 42, 2617, 56], ["M", 1219.7, 2616.7, 56]];
  LETTERS.forEach((l) => elements.push(text(l[0], l[1], l[2], l[3])));
  elements.push(text("PCoA - PC1 vs PC2", 1406.7, 85.1, 29, { weight: "bold" }));
  L_LEGEND.forEach((name, i) => {
    const cy = 2673.8 + i * 45.4;
    elements.push({ type: "rect", silent: true, z: 50, shape: { x: 64, y: cy - 10.5, width: 65, height: 21 }, style: { fill: rgba(L_COLORS[name], 1) } });
    elements.push(text(name, 154, cy, 31, { align: "left" }));
  });
  CLADE_LETTERS.forEach((letter, i) => {
    const cy = 3220.8 + i * 23.45;
    elements.push({ type: "rect", silent: true, z: 50, shape: { x: 54, y: cy - 6, width: 34, height: 12 }, style: { fill: rgba(L_COLORS[CLADE_GROUPS[i]], 1), stroke: "#000", lineWidth: 2 } });
    elements.push(text(`${letter}: ${CLADE_NAMES[i]}`, 101, cy, 16, { align: "left", weight: "bold" }));
  });

  return {
    animation: false,
    backgroundColor: "#ffffff",
    textStyle: { fontFamily: SERIF },
    grid, xAxis, yAxis, series, legend,
    polar: [{ center: [682.6, 3064.2], radius: [0, 309] }],
    angleAxis: [{ polarIndex: 0, type: "value", min: 0, max: 360, startAngle: 90, clockwise: true, show: false, splitLine: { show: false } }],
    radiusAxis: [{ polarIndex: 0, type: "value", min: 0, max: 6, show: false, splitLine: { show: false } }],
    visualMap: [{
      type: "continuous", seriesIndex: heatIdx, min: HEAT_MIN, max: HEAT_MAX, orient: "vertical",
      left: 2965, top: 144.3, itemWidth: 20.4, itemHeight: 306.5, calculable: false, padding: 0, hoverLink: false,
      text: null, inRange: { color: HEAT_PALETTE },
    }],
    graphic: { elements },
  };
}

export default function App() {
  const ref = useRef<HTMLDivElement>(null);
  useEffect(() => {
    document.body.style.margin = "0";
    const chart = echarts.init(ref.current as HTMLDivElement, null, { renderer: "svg" });
    chart.setOption(makeOption() as any);
    return () => chart.dispose();
  }, []);
  return <div ref={ref} style={{ width: 3231, height: 3431, background: "#fff" }} />;
}
